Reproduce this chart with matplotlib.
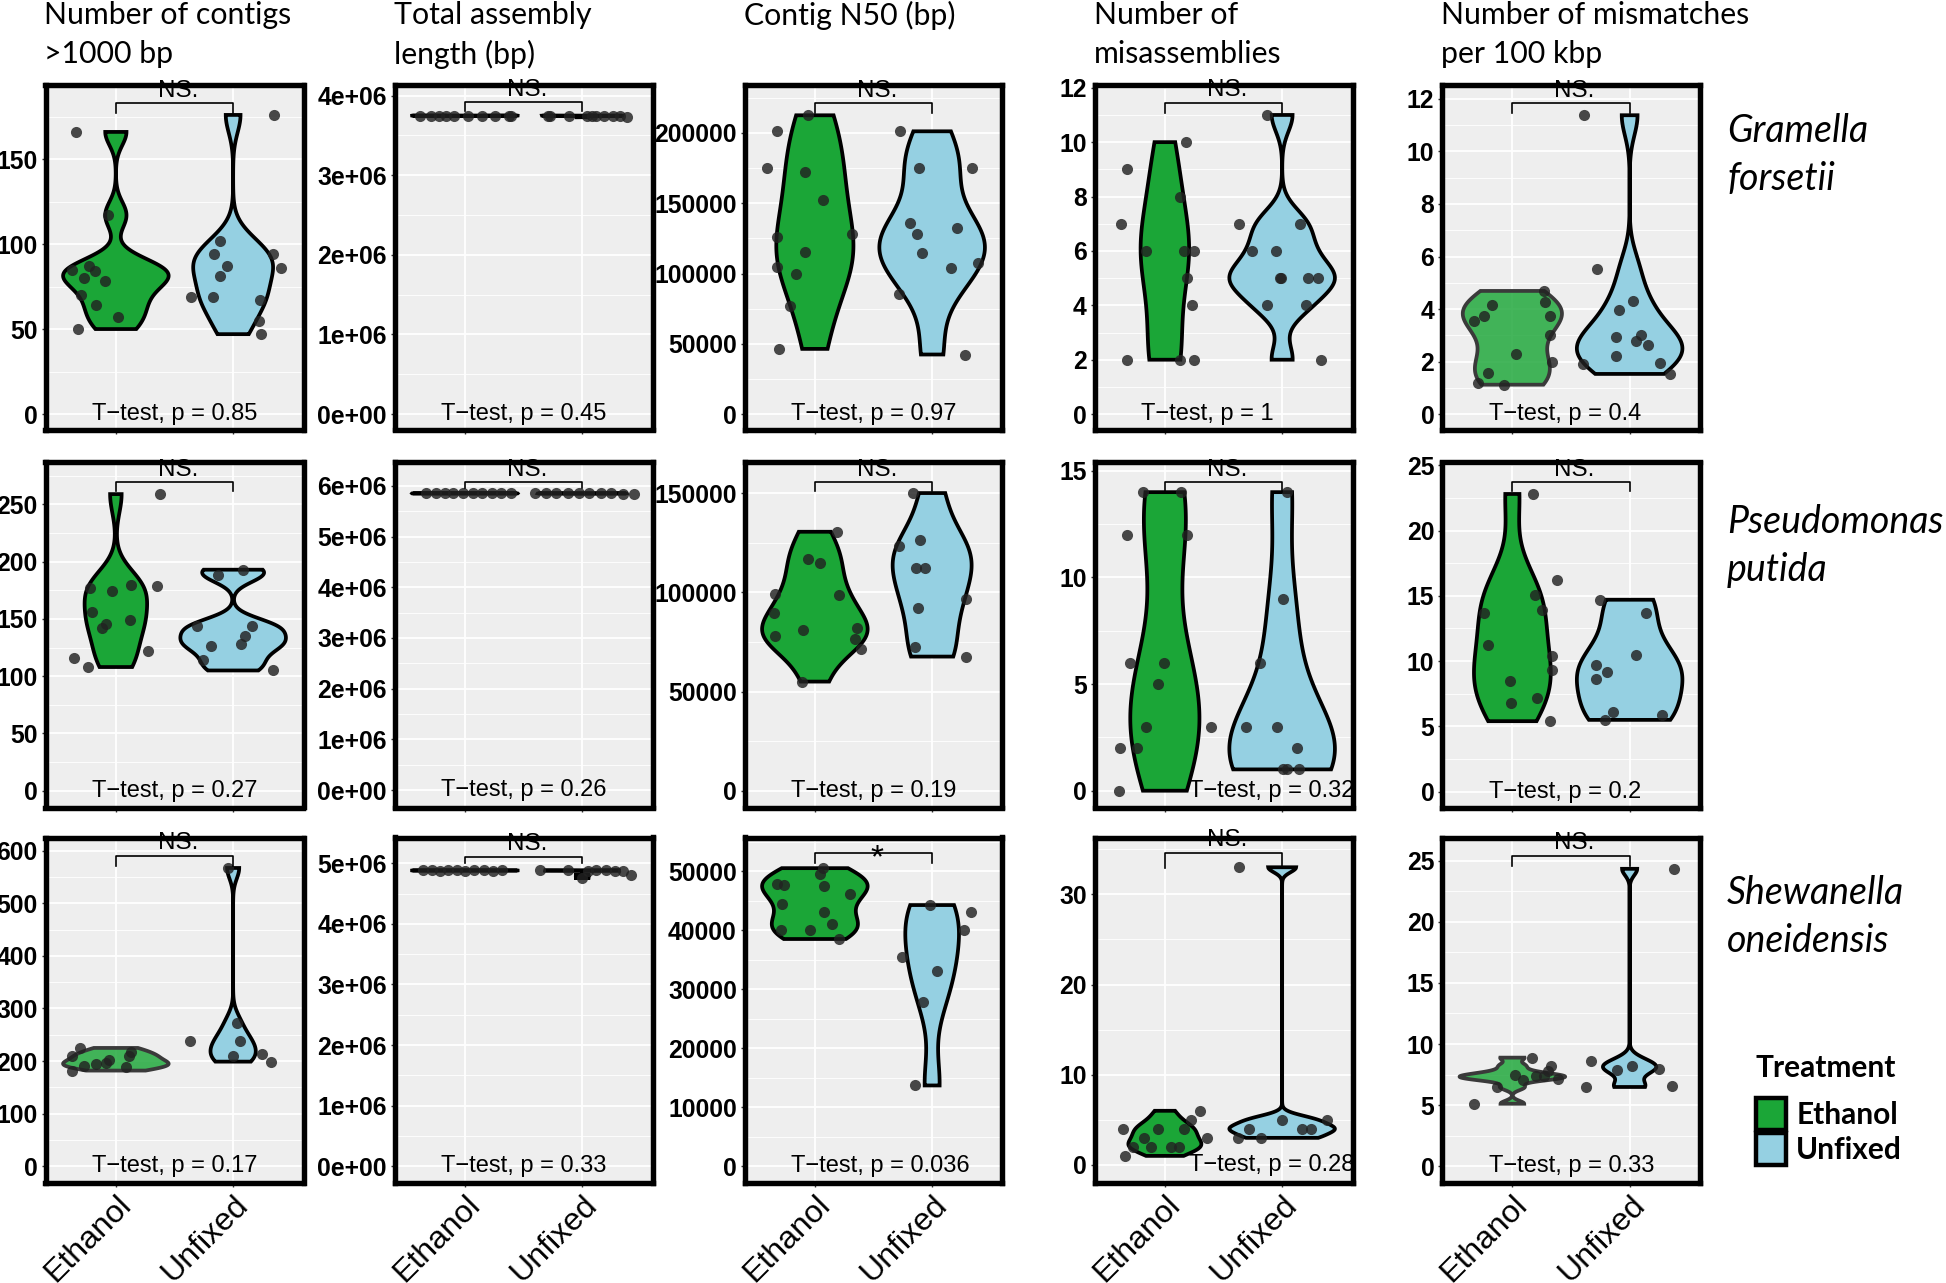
import numpy as np
import matplotlib
matplotlib.use("Agg")
import matplotlib.pyplot as plt
from matplotlib.patches import Patch
from matplotlib.font_manager import FontProperties

# ---------------- data ----------------
TREATMENTS = ["Ethanol", "Unfixed"]
METRICS = ["Number of contigs\n>1000 bp", "Total assembly\nlength (bp)", "Contig N50 (bp)",
           "Number of\nmisassemblies", "Number of mismatches\nper 100 kbp"]
SPECIES = ["Gramella\nforsetii", "Pseudomonas\nputida", "Shewanella\noneidensis"]

# Gramella forsetii
GF_CONTIGS_ETH = [166, 117, 85, 87, 84, 80, 78, 70, 64, 57, 50]
GF_CONTIGS_ETH_JIT = [-0.34, -0.07, -0.37, -0.23, -0.18, -0.27, -0.09, -0.30, -0.17, 0.02, -0.32]
GF_CONTIGS_UNF = [176, 102, 94, 87, 94, 86, 81, 69, 69, 67, 55, 47]
GF_CONTIGS_UNF_JIT = [0.35, -0.11, -0.16, -0.05, 0.34, 0.41, -0.11, -0.17, -0.36, 0.23, 0.22, 0.24]

GF_LENGTH_ETH = [3749000, 3748500, 3748000, 3747500, 3749000, 3748000, 3747000, 3748000, 3746000, 3745500]
GF_LENGTH_ETH_JIT = [-0.38, -0.29, -0.22, -0.16, -0.09, 0.03, 0.15, 0.26, 0.38, 0.39]
GF_LENGTH_UNF = [3748000, 3748500, 3748000, 3747500, 3748000, 3747000, 3746500, 3746000, 3745500, 3728000]
GF_LENGTH_UNF_JIT = [-0.29, -0.27, -0.11, 0.04, 0.08, 0.12, 0.19, 0.26, 0.32, 0.38]

GF_N50_ETH = [212600, 201200, 175000, 171900, 152400, 126200, 128100, 115500, 104800, 99500, 76700, 46400]
GF_N50_ETH_JIT = [-0.06, -0.32, -0.41, -0.08, 0.07, -0.32, 0.32, -0.08, -0.32, -0.16, -0.21, -0.31]
GF_N50_UNF = [201200, 175000, 175000, 135700, 128100, 132100, 114300, 103600, 107600, 85200, 42400]
GF_N50_UNF_JIT = [-0.27, -0.11, 0.34, -0.19, -0.13, 0.21, -0.09, 0.16, 0.39, -0.28, 0.28]

GF_MISASM_ETH = [9, 7, 6, 10, 8, 6, 6, 5, 4, 2, 2, 2]
GF_MISASM_ETH_JIT = [-0.32, -0.37, -0.16, 0.18, 0.13, 0.16, 0.25, 0.19, 0.23, -0.32, 0.13, 0.25]
GF_MISASM_UNF = [11, 7, 7, 6, 6, 5, 5, 5, 5, 4, 4, 2]
GF_MISASM_UNF_JIT = [-0.13, -0.37, 0.15, -0.26, -0.05, -0.02, -0.01, 0.22, 0.31, -0.13, 0.20, 0.33]

GF_MISMATCH_ETH = [3.53, 3.73, 4.17, 4.69, 4.27, 3.73, 3.03, 2.27, 1.97, 1.57, 1.17, 1.12]
GF_MISMATCH_ETH_JIT = [-0.33, -0.24, -0.17, 0.27, 0.28, 0.32, 0.32, 0.03, 0.34, -0.21, -0.29, -0.07]
GF_MISMATCH_UNF = [11.38, 5.52, 4.29, 3.95, 2.93, 3.02, 2.80, 2.64, 2.23, 1.91, 1.94, 1.53]
GF_MISMATCH_UNF_JIT = [-0.39, -0.28, 0.03, -0.09, -0.12, 0.10, 0.05, 0.16, -0.12, -0.40, 0.26, 0.34]

# Pseudomonas putida
PP_CONTIGS_ETH = [259, 177, 174, 180, 179, 156, 146, 142, 149, 122, 116, 108]
PP_CONTIGS_ETH_JIT = [0.38, -0.22, -0.03, 0.13, 0.35, -0.20, -0.08, -0.12, 0.12, 0.27, -0.36, -0.24]
PP_CONTIGS_UNF = [193, 188, 144, 144, 135, 126, 128, 114, 105]
PP_CONTIGS_UNF_JIT = [0.08, -0.13, -0.31, 0.16, 0.10, -0.19, 0.07, -0.26, 0.34]

PP_LENGTH_ETH = [5851000, 5850000, 5852000, 5849000, 5851000, 5850500, 5852500, 5850000, 5849500, 5851500]
PP_LENGTH_ETH_JIT = [-0.33, -0.25, -0.17, -0.10, -0.02, 0.07, 0.15, 0.23, 0.31, 0.39]
PP_LENGTH_UNF = [5850000, 5851000, 5849000, 5852000, 5850500, 5849500, 5851500, 5850000, 5848000, 5847000]
PP_LENGTH_UNF_JIT = [-0.40, -0.31, -0.22, -0.12, -0.03, 0.06, 0.16, 0.25, 0.35, 0.44]

PP_N50_ETH = [130500, 117000, 114600, 98900, 98600, 89600, 81200, 82000, 77800, 76600, 71500, 55000]
PP_N50_ETH_JIT = [0.19, -0.06, 0.04, -0.34, 0.21, -0.35, -0.10, 0.36, -0.34, 0.34, 0.39, -0.11]
PP_N50_UNF = [150000, 126500, 123100, 112400, 112400, 92200, 96700, 72200, 67600]
PP_N50_UNF_JIT = [-0.16, -0.10, -0.28, -0.14, -0.06, -0.12, 0.29, -0.15, 0.29]

PP_MISASM_ETH = [14, 14, 12, 12, 6, 6, 5, 3, 3, 2, 2, 0]
PP_MISASM_ETH_JIT = [-0.19, 0.14, -0.32, 0.19, -0.30, -0.01, -0.06, -0.16, 0.39, -0.38, -0.24, -0.39]
PP_MISASM_UNF = [14, 9, 6, 3, 3, 2, 1, 1, 1]
PP_MISASM_UNF_JIT = [0.04, 0.01, -0.19, -0.31, -0.04, 0.13, 0.01, 0.04, 0.14]

PP_MISMATCH_ETH = [22.8, 16.2, 15.1, 13.7, 13.9, 11.2, 10.4, 9.3, 8.5, 7.2, 6.8, 5.4]
PP_MISMATCH_ETH_JIT = [0.18, 0.38, 0.19, -0.24, 0.25, -0.21, 0.34, 0.34, -0.02, 0.21, -0.01, 0.32]
PP_MISMATCH_UNF = [14.7, 13.7, 10.5, 9.7, 9.2, 8.6, 6.1, 5.5, 5.9]
PP_MISMATCH_UNF_JIT = [-0.25, 0.14, 0.05, -0.29, -0.19, -0.29, -0.14, -0.21, 0.28]

# Shewanella oneidensis
SO_CONTIGS_ETH = [225, 210, 182, 191, 195, 197, 202, 218, 210, 188]
SO_CONTIGS_ETH_JIT = [-0.31, -0.37, -0.37, -0.27, -0.17, -0.08, -0.06, 0.13, 0.11, 0.09]
SO_CONTIGS_UNF = [567, 239, 273, 239, 210, 213, 199]
SO_CONTIGS_UNF_JIT = [-0.04, -0.37, 0.03, 0.06, 0.00, 0.25, 0.32]

SO_LENGTH_ETH = [4880000, 4881000, 4879000, 4880500, 4882000, 4879500, 4881500, 4880000, 4878500, 4880500]
SO_LENGTH_ETH_JIT = [-0.36, -0.28, -0.21, -0.14, -0.07, 0.0, 0.08, 0.16, 0.24, 0.32]
SO_LENGTH_UNF = [4881000, 4880000, 4879500, 4880500, 4760000, 4880000, 4879000, 4878000, 4800000]
SO_LENGTH_UNF_JIT = [-0.36, -0.12, 0.05, 0.12, 0.0, 0.2, 0.28, 0.35, 0.42]

SO_N50_ETH = [50500, 49550, 47900, 47600, 47400, 46200, 44400, 43100, 41100, 40100, 40100, 38500]
SO_N50_ETH_JIT = [0.07, 0.04, -0.32, -0.26, 0.08, 0.30, -0.28, 0.08, 0.15, -0.29, -0.04, 0.21]
SO_N50_UNF = [44250, 43000, 40100, 35500, 33000, 27800, 13700]
SO_N50_UNF_JIT = [-0.02, 0.33, 0.27, -0.26, 0.04, -0.08, -0.15]

SO_MISASM_ETH = [1, 2, 3, 4, 4, 2, 2, 5, 6, 3, 2, 4]
SO_MISASM_ETH_JIT = [-0.34, -0.27, -0.18, -0.36, -0.06, 0.05, 0.12, 0.22, 0.30, 0.36, -0.12, 0.16]
SO_MISASM_UNF = [33, 5, 4, 3, 3, 4, 5, 4]
SO_MISASM_UNF_JIT = [-0.37, 0.0, -0.28, -0.38, -0.18, 0.17, 0.38, 0.25]

SO_MISMATCH_ETH = [8.89, 8.24, 7.76, 7.44, 7.09, 7.35, 7.41, 7.17, 6.47, 5.12]
SO_MISMATCH_ETH_JIT = [0.17, 0.33, 0.30, 0.02, 0.09, 0.20, 0.27, 0.39, -0.13, -0.33]
SO_MISMATCH_UNF = [24.33, 8.62, 7.89, 8.24, 7.97, 6.49, 6.60]
SO_MISMATCH_UNF_JIT = [0.38, -0.33, -0.11, 0.02, 0.25, -0.37, 0.36]

P_VALUES = [["0.85", "0.45", "0.97", "1", "0.4"],
            ["0.27", "0.26", "0.19", "0.32", "0.2"],
            ["0.17", "0.33", "0.036", "0.28", "0.33"]]
SIGNIF = [["NS."] * 5, ["NS."] * 5, ["NS.", "NS.", "*", "NS.", "NS."]]

PANELS = [
    [(GF_CONTIGS_ETH, GF_CONTIGS_ETH_JIT, GF_CONTIGS_UNF, GF_CONTIGS_UNF_JIT),
     (GF_LENGTH_ETH, GF_LENGTH_ETH_JIT, GF_LENGTH_UNF, GF_LENGTH_UNF_JIT),
     (GF_N50_ETH, GF_N50_ETH_JIT, GF_N50_UNF, GF_N50_UNF_JIT),
     (GF_MISASM_ETH, GF_MISASM_ETH_JIT, GF_MISASM_UNF, GF_MISASM_UNF_JIT),
     (GF_MISMATCH_ETH, GF_MISMATCH_ETH_JIT, GF_MISMATCH_UNF, GF_MISMATCH_UNF_JIT)],
    [(PP_CONTIGS_ETH, PP_CONTIGS_ETH_JIT, PP_CONTIGS_UNF, PP_CONTIGS_UNF_JIT),
     (PP_LENGTH_ETH, PP_LENGTH_ETH_JIT, PP_LENGTH_UNF, PP_LENGTH_UNF_JIT),
     (PP_N50_ETH, PP_N50_ETH_JIT, PP_N50_UNF, PP_N50_UNF_JIT),
     (PP_MISASM_ETH, PP_MISASM_ETH_JIT, PP_MISASM_UNF, PP_MISASM_UNF_JIT),
     (PP_MISMATCH_ETH, PP_MISMATCH_ETH_JIT, PP_MISMATCH_UNF, PP_MISMATCH_UNF_JIT)],
    [(SO_CONTIGS_ETH, SO_CONTIGS_ETH_JIT, SO_CONTIGS_UNF, SO_CONTIGS_UNF_JIT),
     (SO_LENGTH_ETH, SO_LENGTH_ETH_JIT, SO_LENGTH_UNF, SO_LENGTH_UNF_JIT),
     (SO_N50_ETH, SO_N50_ETH_JIT, SO_N50_UNF, SO_N50_UNF_JIT),
     (SO_MISASM_ETH, SO_MISASM_ETH_JIT, SO_MISASM_UNF, SO_MISASM_UNF_JIT),
     (SO_MISMATCH_ETH, SO_MISMATCH_ETH_JIT, SO_MISMATCH_UNF, SO_MISMATCH_UNF_JIT)],
]

# ---------------- axis settings ----------------
YLIMS = [[(-9.1, 193.9), (-0.193e6, 4.139e6), (-10950, 234500), (-0.566, 12.12), (-0.586, 12.55)],
         [(-14.65, 286.6), (-0.344e6, 6.46e6), (-8450, 165400), (-0.787, 15.39), (-1.21, 25.21)],
         [(-30.7, 624.9), (-0.266e6, 5.424e6), (-2734, 55692), (-1.95, 36.3), (-1.32, 26.89)]]
YSTEPS = [[50, 1e6, 50000, 2, 2], [50, 1e6, 50000, 5, 5], [100, 1e6, 10000, 10, 5]]
BRACKETS = [[(183, 177), (3.916e6, 3.80e6), (221400, 214300), (11.45, 11.08), (11.85, 11.46)],
            [(269.6, 261.4), (6.07e6, 5.95e6), (155600, 150800), (14.48, 14.01), (23.72, 23.0)],
            [(590.5, 569.8), (5.11e6, 5.0e6), (53000, 51300), (34.6, 32.9), (25.4, 24.6)]]
LABEL_X = [[0.8, 0.8, 0.8, 0.8, 0.8], [0.8, 0.8, 0.8, 1.21, 0.8], [0.8, 0.8, 0.8, 1.21, 0.8]]
LIGHT_ETH = {(0, 4), (2, 0), (2, 4)}

GREEN = "#1BA637"
BLUE = "#95D0E2"
W, H = 1946, 1283
COL_LEFT = [45.5, 394.5, 744.5, 1094.5, 1442]
ROW_TOP = [84.5, 462.5, 837.5]
AX_W, AX_H = 258, 345

NUM_FONT = "Liberation Sans"
TXT_FONT = "Lato"


def nrd0(x):
    x = np.asarray(x, float)
    hi = np.std(x, ddof=1)
    q75, q25 = np.percentile(x, [75, 25])
    lo = min(hi, (q75 - q25) / 1.34)
    if lo == 0:
        lo = hi or abs(x[0]) or 1
    return 0.9 * lo * len(x) ** -0.2


def kde(x, grid):
    x = np.asarray(x, float)
    bw = nrd0(x)
    z = (grid[:, None] - x[None, :]) / bw
    return np.exp(-0.5 * z ** 2).sum(1) / (len(x) * bw * np.sqrt(2 * np.pi))


def tick_label(v, step):
    if step >= 1e6:
        return f"{v:.0e}"
    return f"{int(round(v))}"


fig = plt.figure(figsize=(W / 100, H / 100), dpi=100)

for r in range(3):
    for c in range(5):
        eth, eth_jit, unf, unf_jit = PANELS[r][c]
        ax = fig.add_axes([COL_LEFT[c] / W, 1 - (ROW_TOP[r] + AX_H) / H, AX_W / W, AX_H / H])
        ax.set_facecolor("#EEEEEE")
        ax.set_xlim(0.4, 2.6)
        ylo, yhi = YLIMS[r][c]
        ax.set_ylim(ylo, yhi)
        step = YSTEPS[r][c]
        majors = np.arange(0, yhi + 1e-9, step)
        minors = np.arange(step / 2, yhi, step)
        ax.set_yticks(majors)
        ax.set_yticklabels([tick_label(v, step) for v in majors], fontfamily=NUM_FONT,
                           fontweight="bold", fontsize=17.8)
        ax.set_yticks(minors, minor=True)
        ax.set_xticks([1, 2])
        if r == 2:
            ax.set_xticklabels(TREATMENTS, rotation=45, ha="right", va="top",
                               rotation_mode="anchor", fontfamily=NUM_FONT, fontsize=23)
        else:
            ax.set_xticklabels([])
        ax.set_axisbelow(True)
        ax.grid(which="major", color="white", lw=1.3)
        ax.grid(which="minor", axis="y", color="white", lw=0.6)
        ax.tick_params(which="major", length=3, width=1, color="#333333", pad=2.5)
        ax.tick_params(which="minor", length=0)
        for sp in ax.spines.values():
            sp.set_linewidth(3.9)
            sp.set_color("black")
            sp.set_zorder(10)

        # violins (area scaled, trimmed, gaussian kde with nrd0 bandwidth)
        curves = []
        for vals in (eth, unf):
            grid = np.linspace(min(vals), max(vals), 512)
            curves.append((grid, kde(vals, grid)))
        dmax = max(d.max() for _, d in curves)
        for i, (grid, d) in enumerate(curves):
            hw = 0.45 * d / dmax
            xs = np.concatenate([i + 1 - hw, (i + 1 + hw)[::-1]])
            ys = np.concatenate([grid, grid[::-1]])
            if i == 0:
                light = (r, c) in LIGHT_ETH
                ax.fill(xs, ys, facecolor=GREEN, alpha=0.82 if light else 1.0,
                        edgecolor="none", zorder=3)
                ax.fill(xs, ys, facecolor="none", edgecolor="#3a3a3a" if light else "black",
                        lw=2.7, zorder=3)
            else:
                ax.fill(xs, ys, facecolor=BLUE, edgecolor="black", lw=2.7, zorder=3)

        # jittered points
        for i, (vals, jit) in enumerate(((eth, eth_jit), (unf, unf_jit))):
            ax.scatter(i + 1 + np.asarray(jit), vals, s=64, color="#222222", alpha=0.82,
                       lw=0, zorder=4)

        # comparison bracket and labels
        top, tip = BRACKETS[r][c]
        ax.plot([1, 1, 2, 2], [tip, top, top, tip], color="black", lw=1.2, zorder=5)
        sig = SIGNIF[r][c]
        if sig == "*":
            ax.text(1.53, top - (yhi - ylo) * 0.04, sig, ha="center", va="baseline",
                    fontfamily=NUM_FONT, fontsize=24, zorder=5)
        else:
            ax.text(1.53, top + (yhi - ylo) * 0.004, sig, ha="center", va="bottom",
                    fontfamily=NUM_FONT, fontsize=17.5, zorder=5)
        ax.text(LABEL_X[r][c], 0, "T\u2212test, p = " + P_VALUES[r][c], ha="left",
                va="center", fontfamily=NUM_FONT, fontsize=17, zorder=5, clip_on=False)

# column titles
for c, title in enumerate(METRICS):
    fig.text((COL_LEFT[c] - 1) / W, 1 - 1 / H, title, ha="left", va="top",
             fontfamily=TXT_FONT, fontsize=21.8, linespacing=1.46)

# species labels
for r, (name, top) in enumerate(zip(SPECIES, [113, 504, 875])):
    fig.text(1727 / W, 1 - top / H, name, ha="left", va="top", fontfamily=TXT_FONT,
             style="italic", fontsize=27, linespacing=1.42)

# legend
fig.text(1756 / W, 1 - 1054 / H, "Treatment", ha="left", va="top", fontfamily=TXT_FONT,
         fontweight="bold", fontsize=21.5)
handles = [Patch(facecolor=GREEN, edgecolor="black", lw=3.2),
           Patch(facecolor=BLUE, edgecolor="black", lw=3.2)]
fig.legend(handles, TREATMENTS, loc="upper left", bbox_to_anchor=(1756 / W, 1 - 1098 / H),
           frameon=False,
           prop=FontProperties(family=TXT_FONT, weight="bold", size=21.5),
           handlelength=1.0, handleheight=1.26, handletextpad=0.35, labelspacing=0.1,
           borderpad=0, borderaxespad=0)

fig.savefig("out.png", dpi=100)
